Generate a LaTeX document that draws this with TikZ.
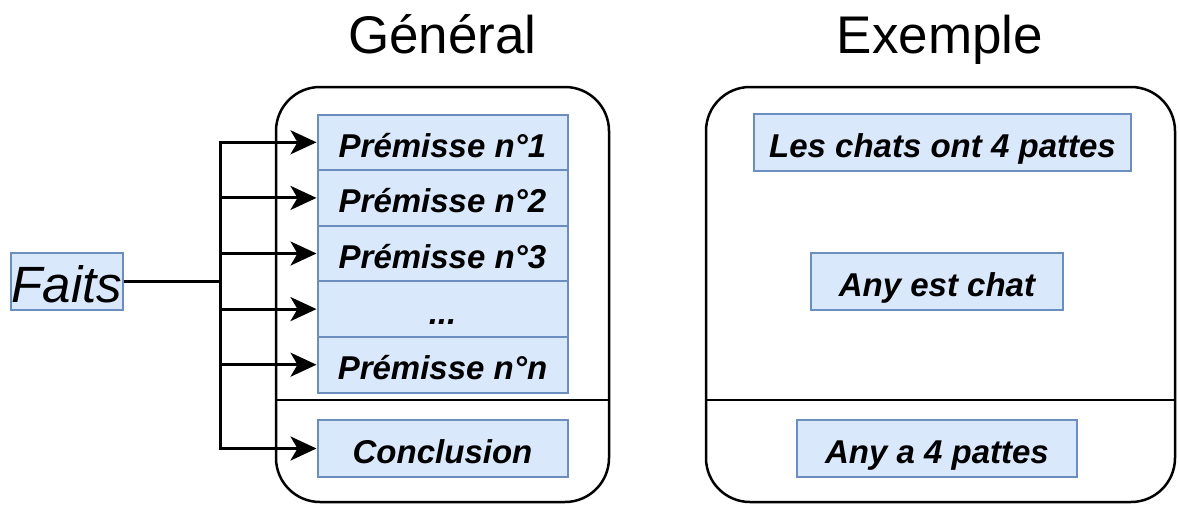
\documentclass[tikz,border=0pt]{standalone}
\usepackage{fontspec}
\setmainfont{Liberation Sans}
\usetikzlibrary{arrows.meta}
\definecolor{boxfill}{HTML}{DAE8FC}
\definecolor{boxline}{HTML}{6C8EBF}
\begin{document}
\begin{tikzpicture}[x=1pt,y=-1pt,
  panel/.style={draw=black, line width=2.5pt, rounded corners=44pt, inner sep=0pt},
  fact/.style={draw=boxline, fill=boxfill, line width=2pt, inner sep=0pt,
    minimum height=55.6pt, text height=30pt, text depth=0pt,
    font=\fontsize{33}{40}\selectfont\bfseries\itshape},
  feed/.style={line width=3pt, -{Stealth[length=26pt,width=24pt,inset=7pt]}},
  title/.style={font=\fontsize{53}{60}\selectfont, anchor=base, inner sep=0pt}]
\useasboundingbox (0,0) rectangle (1178,504);

% column titles
\node[title] (tgen) at (442.5,53) {Général};
\node[title] (tex) at (940,53) {Exemple};

% the two frames, each split into premises (top) and conclusion (bottom)
\node[panel, minimum width=333pt, minimum height=415pt] (gen) at (442.5,294.5) {};
\node[panel, minimum width=469pt, minimum height=415pt] (ex) at (940.5,294.5) {};
\draw[line width=2.5pt] (gen.west |- 0,400) -- (gen.east |- 0,400);
\draw[line width=2.5pt] (ex.west |- 0,400) -- (ex.east |- 0,400);

% general rule
\node[fact, minimum width=250pt] (p1) at (442.5,142.3) {Prémisse n°1};
\node[fact, minimum width=250pt] (p2) at (442.5,197.9) {Prémisse n°2};
\node[fact, minimum width=250pt] (p3) at (442.5,253.5) {Prémisse n°3};
\node[fact, minimum width=250pt] (pd) at (442.5,309.1) {...};
\node[fact, minimum width=250pt] (pn) at (442.5,364.7) {Prémisse n°n};
\node[fact, minimum width=250pt, minimum height=57pt] (concl) at (442.5,448.5) {Conclusion};

% example
\node[fact, minimum width=377pt, minimum height=57pt] (e1) at (942.5,142.5) {Les chats ont 4 pattes};
\node[fact, minimum width=252pt, minimum height=57pt] (e2) at (937,281.5) {Any est chat};
\node[fact, minimum width=280pt, minimum height=57pt] (e3) at (937,448.5) {Any a 4 pattes};

% facts feeding every slot
\node[fact, minimum width=112pt, minimum height=57pt, text height=42pt,
  font=\fontsize{51}{60}\selectfont\itshape] (faits) at (67,281.5) {Faits};
\coordinate (split) at (220,281.5);
\draw[line width=3pt] (faits.east) -- (split);
\foreach \n in {p1,p2,p3,pd,pn,concl}
  \draw[feed] (split) -- (split |- \n.west) -- (\n.west);
\end{tikzpicture}
\end{document}
